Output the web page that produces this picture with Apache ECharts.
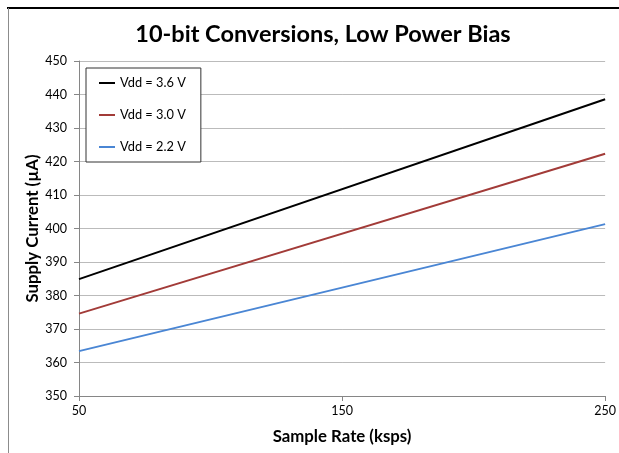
<!DOCTYPE html>
<html>
<head>
<meta charset="utf-8">
<script src="https://cdn.jsdelivr.net/npm/echarts@6/dist/echarts.min.js"></script>
<style>
html,body{margin:0;padding:0;background:#fff;}
#chart{width:619px;height:453px;}
</style>
</head>
<body>
<div id="chart"></div>
<script>
const sampleRates = [50, 250];
const vdd36 = [384.9, 438.6];
const vdd30 = [374.6, 422.3];
const vdd22 = [363.4, 401.3];
const seriesNames = ['Vdd = 3.6 V', 'Vdd = 3.0 V', 'Vdd = 2.2 V'];
const xTicks = [50, 150, 250];
const yTicks = [350, 360, 370, 380, 390, 400, 410, 420, 430, 440, 450];

const FONT = 'Lato, "Open Sans", sans-serif';
const colors = ['#000000', '#A23B38', '#4A86D4'];
const seriesData = [vdd36, vdd30, vdd22];

const chart = echarts.init(document.getElementById('chart'), null, {renderer: 'canvas'});
chart.setOption({
  animation: false,
  backgroundColor: '#ffffff',
  title: {
    text: '10-bit Conversions, Low Power Bias',
    left: 318, top: 17, textAlign: 'center',
    textStyle: {fontFamily: FONT, fontWeight: 'bold', fontSize: 23.5, color: '#000'}
  },
  grid: {left: 79, right: 11, top: 61, bottom: 57, containLabel: false},
  legend: {
    orient: 'vertical', left: 86, top: 68,
    data: seriesNames,
    backgroundColor: '#fff',
    borderColor: '#333', borderWidth: 1,
    padding: [8, 15, 8, 13],
    itemGap: 18, itemWidth: 16, itemHeight: 2,
    icon: 'rect',
    textStyle: {fontFamily: FONT, fontSize: 12.8, color: '#000', lineHeight: 14}
  },
  xAxis: {
    type: 'value', min: xTicks[0], max: xTicks[xTicks.length - 1], interval: 100,
    name: 'Sample Rate (ksps)', nameLocation: 'middle', nameGap: 32,
    nameTextStyle: {fontFamily: FONT, fontWeight: 'bold', fontSize: 16.8, color: '#000'},
    axisLine: {show: true, lineStyle: {color: '#868686', width: 1}},
    axisTick: {show: true, length: 5, lineStyle: {color: '#868686'}},
    axisLabel: {fontFamily: FONT, fontSize: 12.5, color: '#000', margin: 8},
    splitLine: {show: false}
  },
  yAxis: {
    type: 'value', min: yTicks[0], max: yTicks[yTicks.length - 1], interval: 10,
    name: 'Supply Current (µA)', nameLocation: 'middle', nameGap: 38, nameRotate: 90,
    nameMoveOverlap: false,
    nameTextStyle: {fontFamily: FONT, fontWeight: 'bold', fontSize: 16.8, color: '#000'},
    axisLine: {show: true, lineStyle: {color: '#868686', width: 1}},
    axisTick: {show: true, length: 5, lineStyle: {color: '#868686'}},
    axisLabel: {fontFamily: FONT, fontSize: 12.5, color: '#000', margin: 12},
    splitLine: {show: true, lineStyle: {color: '#BBBBBB', width: 1}}
  },
  series: seriesNames.map((n, i) => ({
    name: n, type: 'line', symbol: 'none', showSymbol: false,
    data: sampleRates.map((x, j) => [x, seriesData[i][j]]),
    lineStyle: {color: colors[i], width: 2},
    itemStyle: {color: colors[i]}
  })),
  graphic: [
    {type: 'line', shape: {x1: 7, y1: 8, x2: 619, y2: 8}, style: {stroke: '#000', lineWidth: 2}, silent: true},
    {type: 'line', shape: {x1: 8.5, y1: 8, x2: 8.5, y2: 453}, style: {stroke: '#8c8c8c', lineWidth: 1}, silent: true}
  ]
});
</script>
</body>
</html>
